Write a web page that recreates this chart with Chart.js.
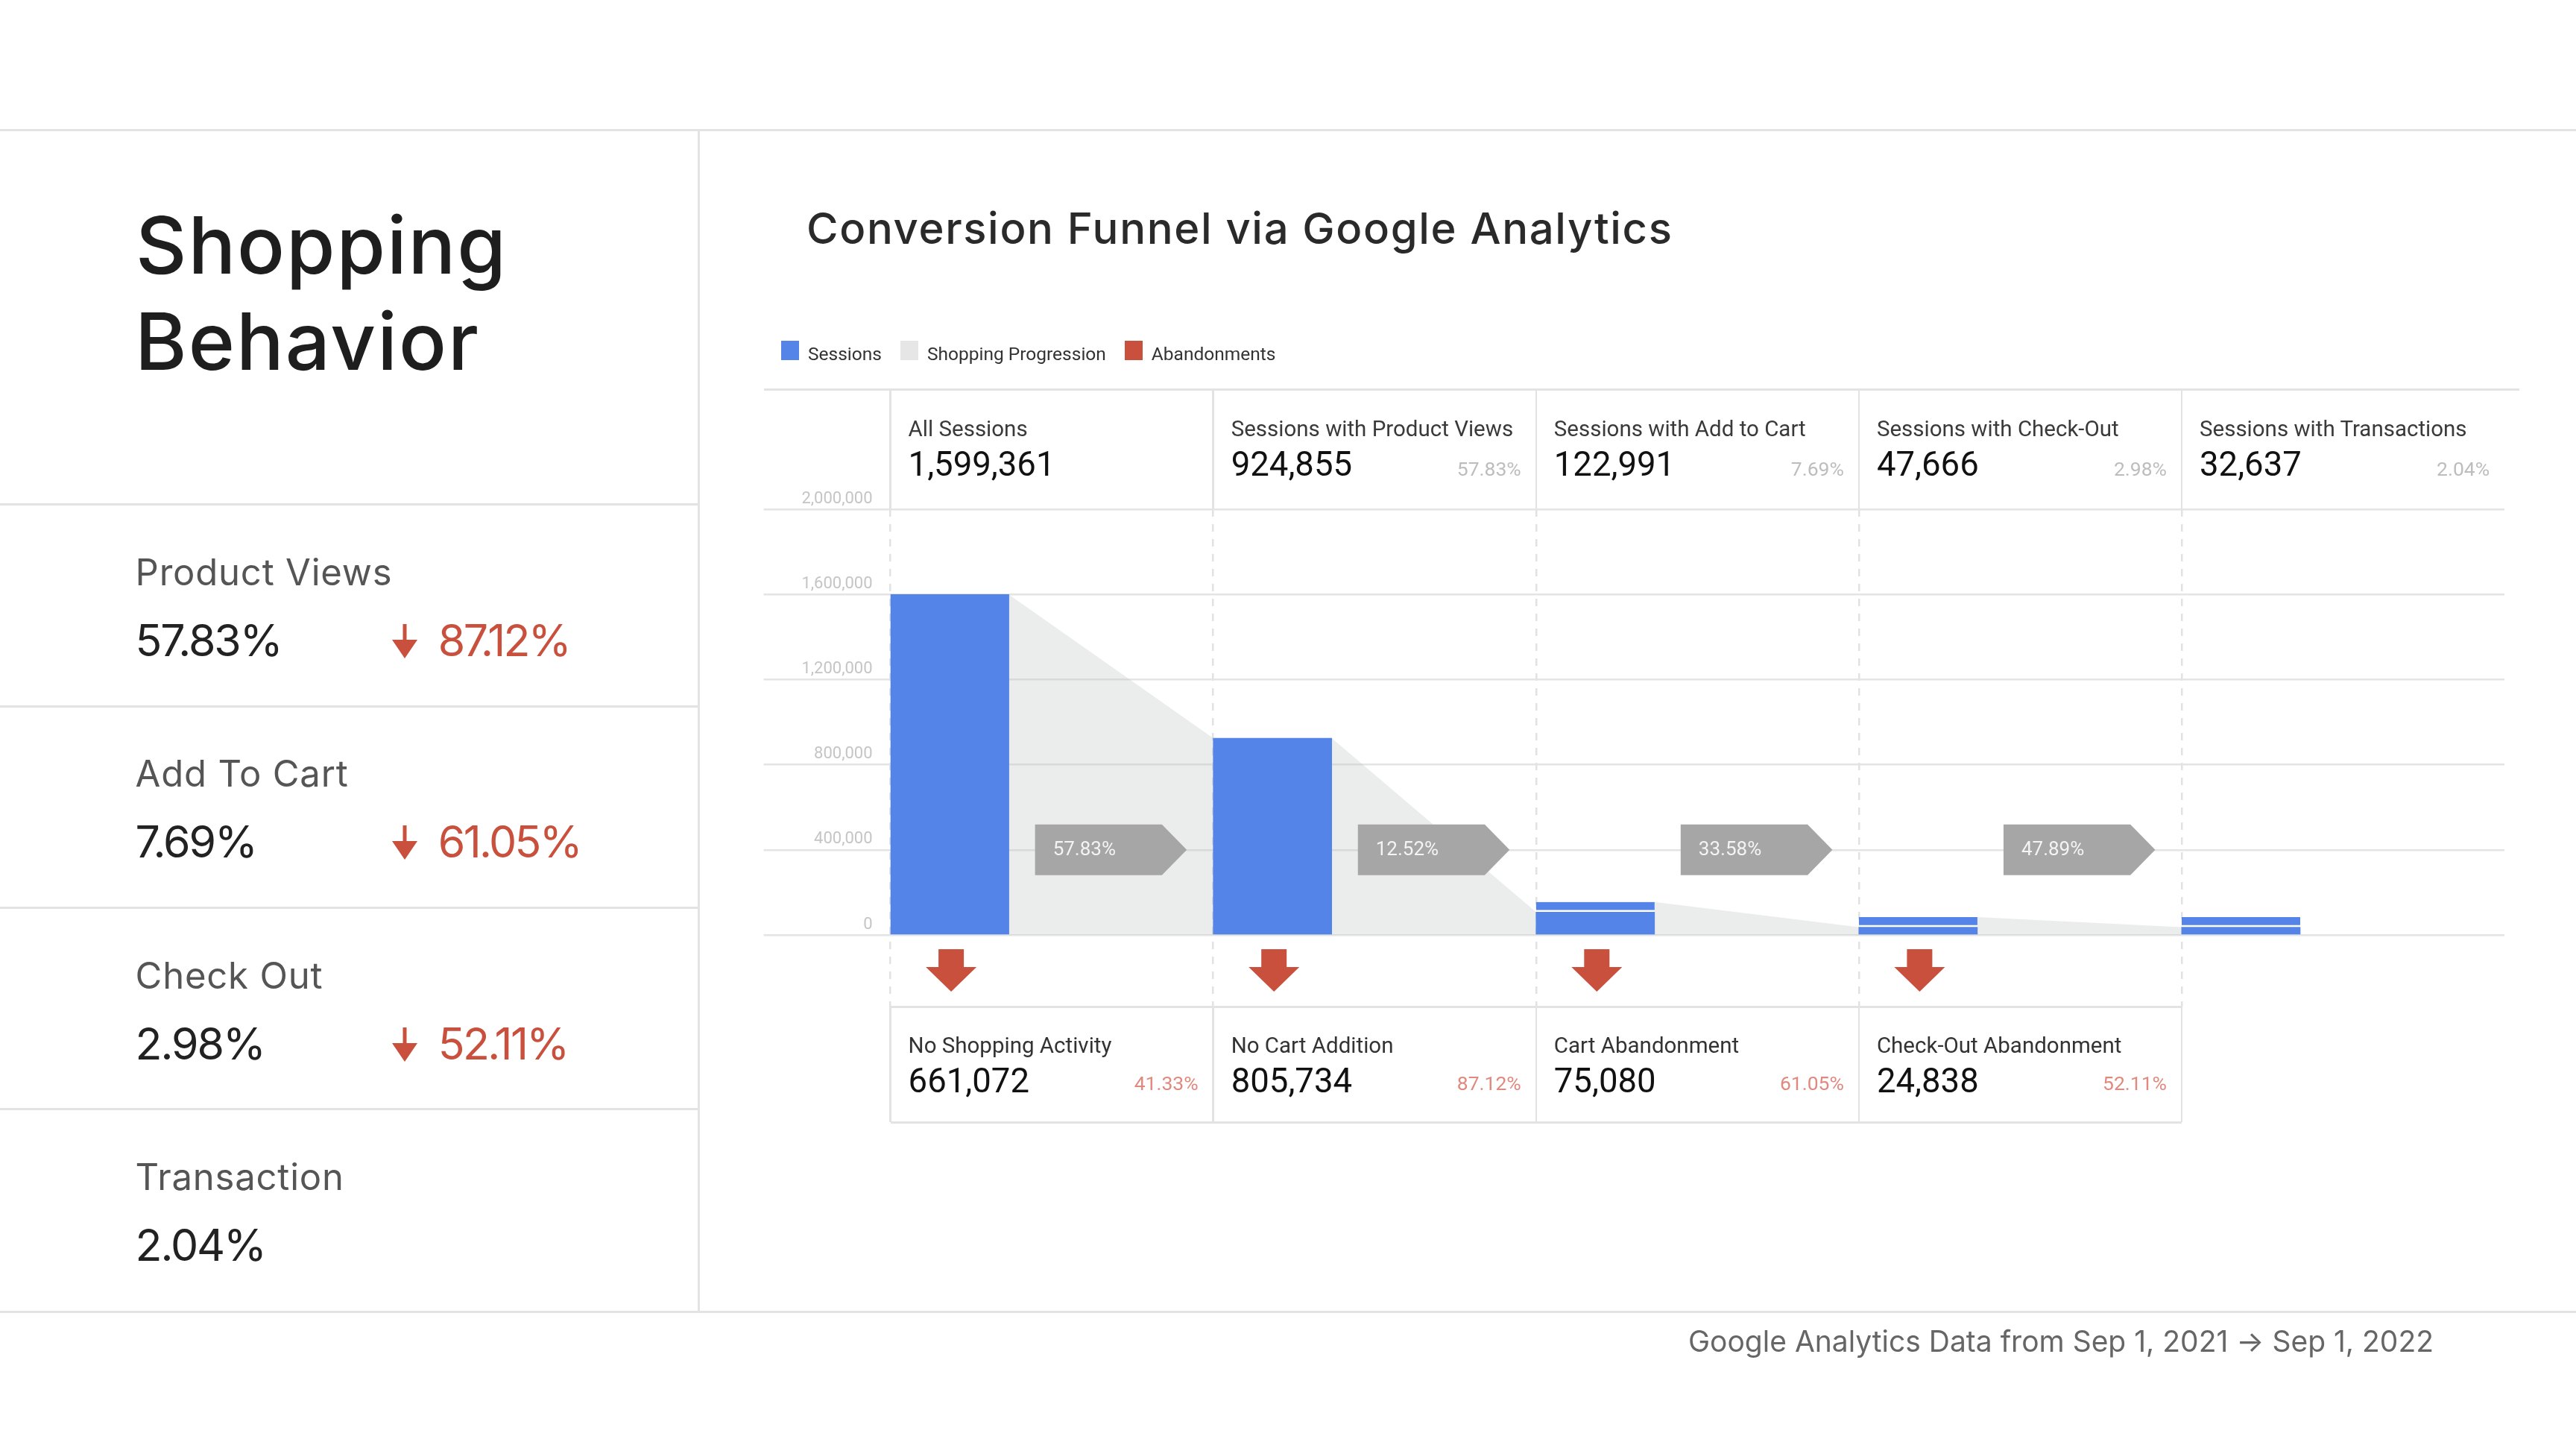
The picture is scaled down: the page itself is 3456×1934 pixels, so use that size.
<!DOCTYPE html>
<html><head><meta charset="utf-8">
<script src="https://cdn.jsdelivr.net/npm/chart.js@4.4.1/dist/chart.umd.min.js"></script>
<style>
html,body{margin:0;padding:0;background:#fff;}
#page{position:relative;width:3456px;height:1934px;overflow:hidden;background:#fff;}
#c{position:absolute;left:0;top:0;z-index:0;}
.t{position:absolute;white-space:nowrap;line-height:1;z-index:2;}
.ln{position:absolute;background:#e3e3e3;z-index:1;}
</style></head>
<body><div id="page"><canvas id="c" width="3456" height="1934"></canvas></div>
<script>
// ---------- data ----------
const stages = ['All Sessions','Sessions with Product Views','Sessions with Add to Cart','Sessions with Check-Out','Sessions with Transactions'];
const sessionCounts = [1599361, 924855, 122991, 47666, 32637];
const sessionShare = [null, '57.83%', '7.69%', '2.98%', '2.04%'];
// bar bodies and caps (y units)
const barBase = [1599361, 924855, 108000, 37000, 37000];
const barCap  = [null, null, 155000, 84000, 84000];
const progressionPct = ['57.83%', '12.52%', '33.58%', '47.89%'];
const abandonLabels = ['No Shopping Activity', 'No Cart Addition', 'Cart Abandonment', 'Check-Out Abandonment'];
const abandonCounts = [661072, 805734, 75080, 24838];
const abandonPct = ['41.33%', '87.12%', '61.05%', '52.11%'];
const yTicks = [0, 400000, 800000, 1200000, 1600000, 2000000];
const yTickLabels = ['0', '400,000', '800,000', '1,200,000', '1,600,000', '2,000,000'];
const summaryLabels = ['Product Views', 'Add To Cart', 'Check Out', 'Transaction'];
const summaryRates = ['57.83%', '7.69%', '2.98%', '2.04%'];
const summaryDrops = ['87.12%', '61.05%', '52.11%', null];
const legendLabels = ['Sessions', 'Shopping Progression', 'Abandonments'];

// ---------- style ----------
const BLUE = '#5584e8', RED = '#c8503d', PROG = 'rgba(190,196,193,0.3)', LEGGRAY = '#e6e6e6';
const POP = 'Inter, "Noto Sans", sans-serif', ROB = 'Roboto, sans-serif';
const COL0 = 1194.6, COLW = 433.1, BWPX = 159, BW = BWPX / COLW;
const CH_TOP = 683, CH_BOT = 1350;
const fmt = v => v.toLocaleString('en-US');
const stageIdx = stages.map((_, i) => i);

const page = document.getElementById('page');
function T(txt, o) {
  const el = document.createElement('div');
  el.className = 't';
  el.style.fontFamily = o.f || ROB; el.style.fontSize = o.s + 'px';
  el.style.fontWeight = o.w || 400; el.style.color = o.c || '#222';
  el.style.left = '0px'; el.style.top = '0px';
  el.appendChild(document.createTextNode(txt));
  const pr = document.createElement('span');
  pr.style.cssText = 'display:inline-block;width:0;height:0;vertical-align:baseline;';
  el.appendChild(pr);
  page.appendChild(el);
  let ls = o.ls;
  if (o.tw != null) { const w0 = el.getBoundingClientRect().width; ls = (o.tw - w0) / Math.max(1, txt.length - 1); }
  if (ls != null) el.style.letterSpacing = ls + 'px';
  const r = el.getBoundingClientRect(), p = pr.getBoundingClientRect();
  const w = r.width - (ls || 0);
  el.style.top = (o.y - (p.top - r.top)) + 'px';
  el.style.left = (o.a === 'right' ? o.x - w : o.x) + 'px';
  return {ls, w};
}
function L(x, y, w, h, c) {
  const d = document.createElement('div'); d.className = 'ln';
  d.style.left = x + 'px'; d.style.top = y + 'px'; d.style.width = w + 'px'; d.style.height = h + 'px';
  if (c) d.style.background = c;
  page.appendChild(d); return d;
}

// ---------- chart ----------
const capData = [];
barCap.forEach((v, i) => { if (v != null) capData.push({x: i + BW / 2, y: [barBase[i], v]}); });
const topOf = i => (barCap[i] != null ? barCap[i] : barBase[i]);
const progPts = [];
for (let i = 0; i < stages.length - 1; i++) {
  progPts.push({x: i + BW, y: topOf(i)});
  progPts.push({x: i + 1, y: barBase[i + 1]});
}

const marks = {
  id: 'funnelMarks',
  afterDatasetsDraw(chart) {
    const xs = chart.scales.x, ys = chart.scales.y, ctx = chart.ctx;
    const zero = ys.getPixelForValue(0);
    const lvl = ys.getPixelForValue(yTicks[1]);
    ctx.save();
    progressionPct.forEach((p, i) => {
      const l = xs.getPixelForValue(i + 0.448), br = xs.getPixelForValue(i + 0.841), tip = xs.getPixelForValue(i + 0.918);
      const h = 68;
      ctx.fillStyle = '#a5a6a5';
      ctx.beginPath();
      ctx.moveTo(l, lvl - h / 2); ctx.lineTo(br, lvl - h / 2); ctx.lineTo(tip, lvl);
      ctx.lineTo(br, lvl + h / 2); ctx.lineTo(l, lvl + h / 2); ctx.closePath(); ctx.fill();
      ctx.fillStyle = '#f4f4f4'; ctx.font = '26px Roboto'; ctx.textBaseline = 'middle'; ctx.textAlign = 'left';
      ctx.fillText(p, l + 24, lvl + 1);
    });
    abandonCounts.forEach((v, i) => {
      const cx = xs.getPixelForValue(i + BW / 2) + 2;
      ctx.fillStyle = RED;
      ctx.fillRect(cx - 17, zero + 19, 34, 25);
      ctx.beginPath();
      ctx.moveTo(cx - 34, zero + 43); ctx.lineTo(cx + 34, zero + 43); ctx.lineTo(cx, zero + 76);
      ctx.closePath(); ctx.fill();
    });
    ctx.restore();
  }
};

const chart = new Chart(document.getElementById('c'), {
  data: {
    datasets: [
      {type: 'bar', label: legendLabels[0], data: barBase.map((v, i) => ({x: i + BW / 2, y: v})),
       backgroundColor: BLUE, borderWidth: 0, barThickness: BWPX, grouped: false, order: 1},
      {type: 'bar', label: legendLabels[0], data: capData, backgroundColor: BLUE, borderColor: '#ffffff',
       borderWidth: {top: 0, right: 0, bottom: 3, left: 0}, borderSkipped: false, barThickness: BWPX, grouped: false, order: 1},
      {type: 'line', label: legendLabels[1], data: progPts, fill: 'origin', backgroundColor: PROG,
       borderWidth: 0, pointRadius: 0, tension: 0, order: 5}
    ]
  },
  options: {
    responsive: false, animation: false, devicePixelRatio: 1,
    layout: {padding: {left: COL0 - 170, right: 3456 - (COL0 + 5 * COLW), top: CH_TOP, bottom: 1934 - CH_BOT}},
    plugins: {legend: {display: false}, tooltip: {enabled: false}},
    scales: {
      x: {type: 'linear', min: 0, max: stages.length, offset: false,
          afterBuildTicks: s => { s.ticks = stageIdx.map(v => ({value: v})); },
          afterFit: s => { s.height = 0; },
          ticks: {display: false},
          grid: {color: '#e2e2e2', lineWidth: 2.5, drawTicks: false, offset: false},
          border: {display: false, dash: [10, 10]}},
      y: {min: -336000, max: 2000000,
          afterBuildTicks: s => { s.ticks = yTicks.map(v => ({value: v})); },
          afterFit: s => { s.width = 170; },
          ticks: {callback: (v, i) => yTickLabels[i], padding: -146, labelOffset: -14, color: '#c5c5c5',
                  font: {family: 'Roboto', size: 22}},
          grid: {color: '#e4e4e4', lineWidth: 2.5, drawTicks: true, tickLength: 170},
          border: {display: false}}
    }
  },
  plugins: [marks]
});

// ---------- page frame ----------
L(0, 173, 3456, 3);
L(936, 174, 3, 1584);
const rowTop0 = 676.7, rowH = 270.4;
summaryLabels.forEach((_, i) => L(0, rowTop0 + i * rowH - 1.5, 937, 3));
L(0, 1757.5, 3456, 3);

// left panel
T('Shopping', {x: 182, y: 367, s: 106, w: 500, f: POP, c: '#1e1e1e', tw: 497});
T('Behavior', {x: 181, y: 496, s: 106, w: 500, f: POP, c: '#1e1e1e', tw: 461});
let lsLab = null, lsVal = null, lsDrop = null;
summaryLabels.forEach((lab, i) => {
  const top = rowTop0 + i * rowH;
  const a = T(lab, {x: 181.6, y: top + 108, s: 49, f: POP, c: '#555', tw: i === 0 ? 344 : undefined, ls: lsLab});
  if (i === 0) lsLab = a.ls;
  const b = T(summaryRates[i], {x: 181.6, y: top + 203, s: 59, f: POP, c: '#222', tw: i === 0 ? 198 : undefined, ls: lsVal});
  if (i === 0) lsVal = b.ls;
  if (summaryDrops[i]) {
    const svgNS = 'http://www.w3.org/2000/svg';
    const svg = document.createElementNS(svgNS, 'svg');
    svg.setAttribute('width', '34'); svg.setAttribute('height', '46');
    svg.style.cssText = `position:absolute;left:526px;top:${top + 160}px;z-index:2;`;
    const path = document.createElementNS(svgNS, 'path');
    path.setAttribute('d', 'M14.5 0 H19.5 V21 H34 L17 46 L0 21 H14.5 Z');
    path.setAttribute('fill', RED);
    svg.appendChild(path); page.appendChild(svg);
    const c = T(summaryDrops[i], {x: 587.8, y: top + 203, s: 59, f: POP, c: RED, tw: i === 0 ? 179 : undefined, ls: lsDrop});
    if (i === 0) lsDrop = c.ls;
  }
});

// chart title + legend
T('Conversion Funnel via Google Analytics', {x: 1082, y: 327, s: 58, w: 500, f: POP, c: '#2a2a2a', tw: 1161});
const legColors = [BLUE, LEGGRAY, RED];
let lx = 1048;
legendLabels.forEach((lab, i) => {
  L(lx, 457, 24, 26, legColors[i]);
  const r = T(lab, {x: lx + 36, y: 483, s: 24.5, f: ROB, c: '#333'});
  lx = lx + 36 + r.w + 25;
});

// header boxes
L(COL0 - 170, 521, 3380 - (COL0 - 170), 3);
stages.forEach((st, i) => {
  const cl = COL0 + i * COLW, cr = cl + COLW;
  L(cl - 1.25, 522, 2.5, CH_TOP - 522);
  T(st, {x: cl + 24, y: 585, s: 29.5, f: ROB, c: '#3a3a3a'});
  T(fmt(sessionCounts[i]), {x: cl + 24, y: 638, s: 45.5, f: ROB, c: '#111'});
  if (sessionShare[i]) T(sessionShare[i], {x: cr - 20, y: 638, s: 26.5, f: ROB, c: '#bdbdbd', a: 'right'});
});

// abandonment boxes
L(COL0, CH_BOT - 1, abandonLabels.length * COLW, 3);
L(COL0, 1504, abandonLabels.length * COLW, 3);
for (let i = 0; i <= abandonLabels.length; i++) L(COL0 + i * COLW - 1.25, CH_BOT, 2.5, 1505 - CH_BOT);
abandonLabels.forEach((lab, i) => {
  const cl = COL0 + i * COLW, cr = cl + COLW;
  T(lab, {x: cl + 24, y: 1412, s: 29.5, f: ROB, c: '#333'});
  T(fmt(abandonCounts[i]), {x: cl + 24, y: 1465, s: 45.5, f: ROB, c: '#111'});
  T(abandonPct[i], {x: cr - 20, y: 1462, s: 26.5, f: ROB, c: '#e08a7f', a: 'right'});
});

// footer
T('Google Analytics Data from Sep 1, 2021 \u2192 Sep 1, 2022', {x: 3265, y: 1813, s: 39, f: POP, c: '#666', tw: 1000, a: 'right'});
</script></body></html>
